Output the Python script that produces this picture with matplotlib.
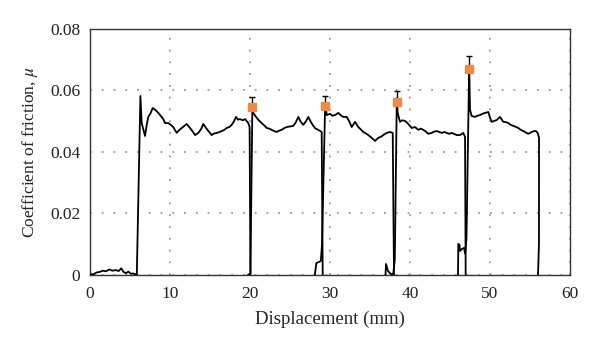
import matplotlib
matplotlib.use("Agg")
import matplotlib.pyplot as plt

# ---- data ----
seg1_x = [0.1, 0.5, 0.8, 1.2, 1.6, 2.0, 2.4, 2.8, 3.2, 3.6, 3.9, 4.2, 4.5, 4.8, 5.1, 5.4, 5.7, 5.85,
          6.3, 6.46, 6.7, 6.88, 7.1, 7.29, 7.55, 7.84, 8.2, 8.54, 8.96, 9.2, 9.38, 9.79, 10.1, 10.41, 10.84,
          11.1, 11.46, 11.8, 12.09, 12.5, 12.8, 13.13, 13.54, 13.9, 14.16, 14.59, 14.9, 15.21, 15.5, 15.84,
          16.2, 16.46, 16.8, 17.09, 17.4, 17.71, 18.0, 18.25, 18.5, 18.75, 19.1, 19.38, 19.6, 19.79, 19.95, 20.06]
seg1_y = [0.0002, 0.0003, 0.0008, 0.0010, 0.0014, 0.0012, 0.0018, 0.0014, 0.0016, 0.0013, 0.0022, 0.0010,
          0.0006, 0.0011, 0.0004, 0.0005, 0.0002, 0.0,
          0.0582, 0.0494, 0.0470, 0.0452, 0.0490, 0.0514, 0.0525, 0.0543, 0.0536, 0.0527, 0.0514, 0.0505,
          0.0494, 0.0494, 0.0488, 0.0481, 0.0462, 0.0470, 0.0478, 0.0485, 0.0491, 0.0478, 0.0468, 0.0455,
          0.0462, 0.0475, 0.0491, 0.0475, 0.0465, 0.0455, 0.0460, 0.0462, 0.0465, 0.0468, 0.0472, 0.0478,
          0.0481, 0.0488, 0.0500, 0.0514, 0.0505, 0.0507, 0.0503, 0.0507, 0.0500, 0.0494, 0.0481, 0.0]

seg2_x = [19.75, 20.05, 20.3, 20.41, 20.6, 20.84, 21.1, 21.46, 21.8, 22.09, 22.4, 22.71, 23.0, 23.34, 23.6,
          23.96, 24.3, 24.59, 25.0, 25.41, 25.7, 26.04, 26.3, 26.66, 27.0, 27.29, 27.6, 27.91, 28.2, 28.54,
          28.96, 29.09]
seg2_y = [0.0, 0.0005, 0.0555, 0.0527, 0.0520, 0.0511, 0.0503, 0.0494, 0.0486, 0.0478, 0.0476, 0.0472,
          0.0468, 0.0465, 0.0469, 0.0472, 0.0478, 0.0481, 0.0483, 0.0485, 0.0495, 0.0514, 0.0500, 0.0488,
          0.0500, 0.0514, 0.0498, 0.0485, 0.0476, 0.0472, 0.0465, 0.0]

seg3_x = [28.1, 28.3, 28.66, 28.85, 29.0, 29.4, 29.59, 30.0, 30.3, 30.63, 31.04, 31.4, 31.66, 32.09, 32.4,
          32.71, 33.13, 33.54, 33.9, 34.16, 34.5, 34.79, 35.21, 35.63, 36.04, 36.4, 36.66, 37.09, 37.5,
          37.84, 38.0]
seg3_y = [0.0, 0.0039, 0.0043, 0.0045, 0.0100, 0.0560, 0.0520, 0.0524, 0.0518, 0.0520, 0.0527, 0.0518,
          0.0514, 0.0514, 0.0500, 0.0481, 0.0498, 0.0481, 0.0472, 0.0465, 0.0460, 0.0455, 0.0446, 0.0436,
          0.0446, 0.0450, 0.0455, 0.0462, 0.0465, 0.0462, 0.0]

seg4_x = [36.94, 37.0, 37.25, 37.6, 37.9, 38.1, 38.35, 38.46, 38.75, 39.05, 39.38, 39.79, 40.21, 40.63,
          41.04, 41.35, 41.66, 42.0, 42.29, 42.71, 43.0, 43.34, 43.96, 44.3, 44.59, 44.9, 45.21, 45.84,
          46.25, 46.66, 46.88, 46.96]
seg4_y = [0.0, 0.0036, 0.0013, 0.0003, 0.0003, 0.0050, 0.0575, 0.0527, 0.0498, 0.0503, 0.0501, 0.0491,
          0.0478, 0.0481, 0.0472, 0.0476, 0.0472, 0.0466, 0.0459, 0.0462, 0.0466, 0.0468, 0.0462, 0.0465,
          0.0462, 0.0459, 0.0462, 0.0455, 0.0455, 0.0462, 0.0449, 0.0]

seg5_x = [46.0, 46.04, 46.19, 46.25, 46.5, 46.75, 46.9, 47.06, 47.4, 47.5, 47.71, 48.13, 48.45, 48.75,
          49.05, 49.38, 49.79, 50.0, 50.21, 50.84, 51.25, 51.66, 52.0, 52.29, 52.6, 52.91, 53.2, 53.54,
          53.85, 54.16, 54.5, 54.79, 55.21, 55.5, 55.75, 55.96, 56.13, 56.12, 56.0]
seg5_y = [0.0, 0.0101, 0.0098, 0.0078, 0.0085, 0.0088, 0.0070, 0.0120, 0.0680, 0.0537, 0.0517, 0.0514,
          0.0518, 0.0520, 0.0524, 0.0527, 0.0530, 0.0512, 0.0498, 0.0504, 0.0514, 0.0498, 0.0497, 0.0494,
          0.0488, 0.0485, 0.0482, 0.0478, 0.0472, 0.0468, 0.0463, 0.0459, 0.0465, 0.0468, 0.0468, 0.0462,
          0.0446, 0.0100, 0.0]

peak_x = [20.3, 29.4, 38.4, 47.4]
peak_y = [0.0546, 0.0549, 0.0563, 0.0669]
peak_err = [0.0033, 0.0034, 0.0036, 0.0043]

x_ticks = [0, 10, 20, 30, 40, 50, 60]
x_labels = ["0", "10", "20", "30", "40", "50", "60"]
y_ticks = [0, 0.02, 0.04, 0.06, 0.08]
y_labels = ["0", "0.02", "0.04", "0.06", "0.08"]

# ---- plot ----
plt.rcParams['font.family'] = ['Liberation Serif', 'DejaVu Serif']
plt.rcParams['mathtext.fontset'] = 'stix'

fig = plt.figure(figsize=(6.0, 3.51), dpi=100)
ax = fig.add_axes([0.15, 0.2165, 0.80, 0.701])

for sx, sy in [(seg1_x, seg1_y), (seg2_x, seg2_y), (seg3_x, seg3_y), (seg4_x, seg4_y), (seg5_x, seg5_y)]:
    ax.plot(sx, sy, color='black', lw=1.3, zorder=3)

ax.errorbar(peak_x, peak_y, yerr=[[0] * len(peak_err), peak_err], fmt='none',
            ecolor='black', elinewidth=1.0, capsize=2.5, capthick=1.0, zorder=4)
ax.plot(peak_x, peak_y, linestyle='none', marker='s', markersize=5.5,
        color='#EE8A45', markeredgecolor='#EE8A45', zorder=5)

ax.set_xlim(0, 60)
ax.set_ylim(0, 0.08)
ax.set_xticks(x_ticks)
ax.set_xticklabels(x_labels)
ax.set_yticks(y_ticks)
ax.set_yticklabels(y_labels)
ax.tick_params(axis='both', length=0, labelsize=12.5, colors='#222222')
ax.tick_params(axis='x', pad=8)
ax.tick_params(axis='y', pad=7)

ax.grid(True, color='#888888', linestyle=(0, (1.2, 6.5)), linewidth=1.1)
ax.set_axisbelow(True)
for s in ax.spines.values():
    s.set_color('#333333')
    s.set_linewidth(1.0)

ax.set_xlabel("Displacement (mm)", fontsize=13.5, color='#222222', labelpad=6)
ax.set_ylabel("Coefficient of friction, $\\mu$", fontsize=12.5, color='#222222', labelpad=7)

fig.savefig("out.png", dpi=100)
